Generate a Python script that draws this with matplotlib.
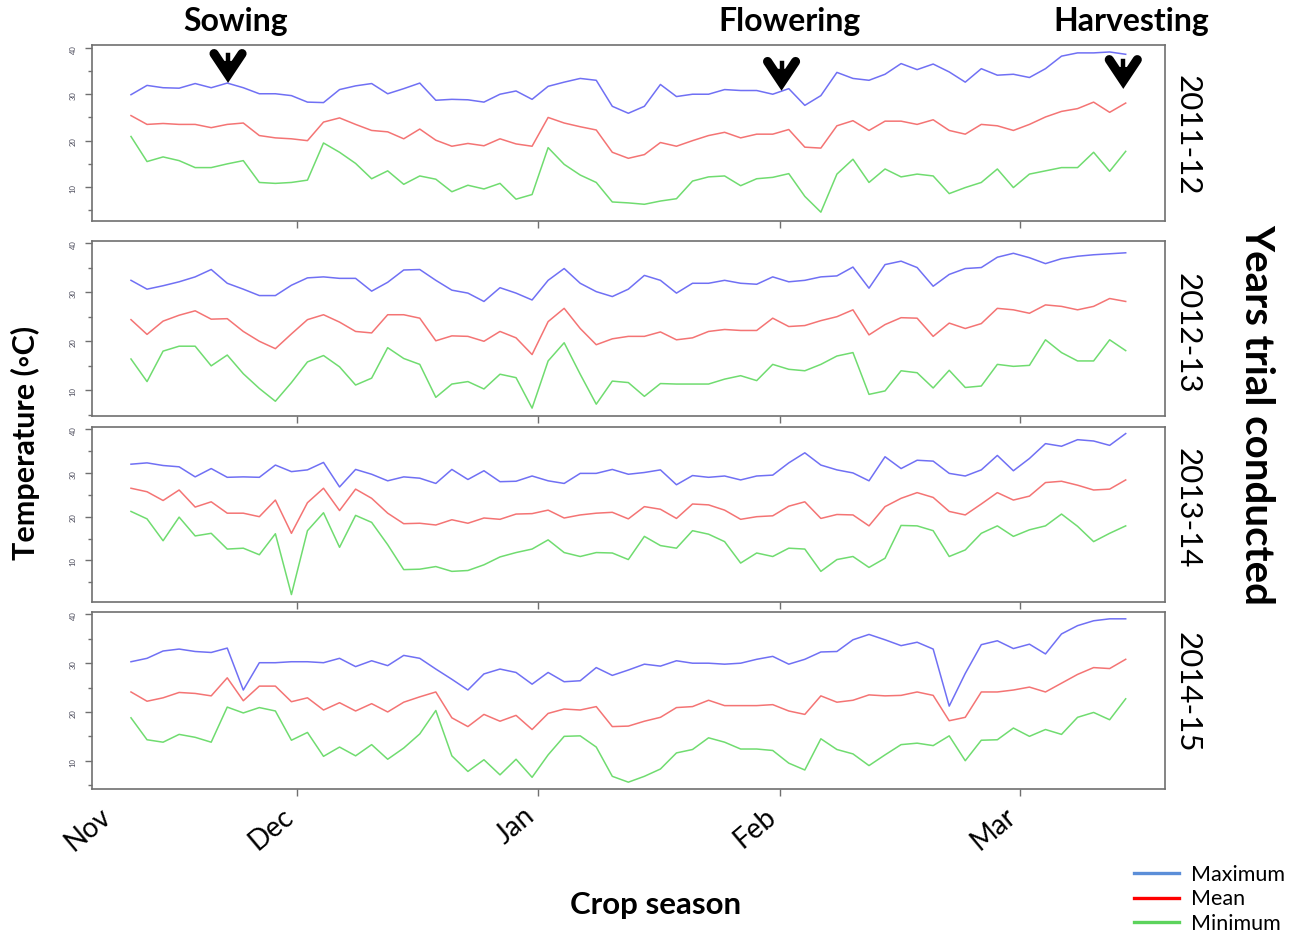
"""
Daily max / mean / min air temperature over four wheat seasons,
one stacked panel per season, with crop stage markers on top.
"""

import numpy as np
import matplotlib
matplotlib.use("Agg")
import matplotlib.pyplot as plt
import matplotlib.transforms as mtransforms
from matplotlib.lines import Line2D
from matplotlib.patches import Polygon

plt.rcParams["font.family"] = ["Lato", "DejaVu Sans"]

# ── Data (read every 2nd day from the figure) ───────────────────────────────
DAYS = np.arange(0, 126, 2)   # days since first record (~10 Nov)

YEARS = ["2011-12", "2012-13", "2013-14", "2014-15"]

MAX_2011 = [29.9, 31.9, 31.4, 31.3, 32.3, 31.4, 32.4, 31.4, 30.1, 30.1, 29.7, 28.3, 28.2,
            31.0, 31.8, 32.3, 30.1, 31.2, 32.4, 28.7, 28.9, 28.8, 28.3, 30.0, 30.7, 28.9,
            31.7, 32.6, 33.4, 33.0, 27.4, 25.9, 27.4, 32.1, 29.5, 30.0, 30.0, 31.0, 30.8,
            30.8, 30.0, 31.2, 27.6, 29.7, 34.7, 33.4, 33.0, 34.3, 36.6, 35.3, 36.5, 34.8,
            32.6, 35.5, 34.1, 34.3, 33.6, 35.5, 38.2, 38.9, 38.9, 39.1, 38.6]
MEAN_2011 = [25.4, 23.5, 23.7, 23.5, 23.5, 22.8, 23.5, 23.8, 21.1, 20.6, 20.4, 20.0, 24.0,
             24.9, 23.5, 22.2, 21.9, 20.4, 22.5, 20.1, 18.8, 19.4, 18.9, 20.4, 19.3, 18.8,
             25.0, 23.8, 23.0, 22.3, 17.5, 16.2, 17.0, 19.6, 18.8, 20.0, 21.1, 21.8, 20.6,
             21.4, 21.4, 22.4, 18.6, 18.4, 23.2, 24.3, 22.2, 24.2, 24.2, 23.5, 24.5, 22.2,
             21.4, 23.5, 23.2, 22.2, 23.5, 25.1, 26.3, 26.9, 28.3, 26.1, 28.1]
MIN_2011 = [20.9, 15.5, 16.5, 15.7, 14.2, 14.2, 15.0, 15.7, 11.0, 10.8, 11.0, 11.5, 19.5,
            17.5, 15.1, 11.8, 13.5, 10.6, 12.4, 11.7, 9.0, 10.4, 9.6, 10.8, 7.4, 8.4,
            18.5, 14.9, 12.6, 11.0, 6.8, 6.6, 6.3, 7.0, 7.5, 11.3, 12.2, 12.4, 10.3,
            11.8, 12.1, 12.9, 8.0, 4.6, 12.8, 16.0, 11.0, 13.9, 12.2, 12.8, 12.4, 8.6,
            9.9, 11.0, 13.9, 9.9, 12.8, 13.5, 14.2, 14.2, 17.5, 13.4, 17.7]

MAX_2012 = [32.4, 30.6, 31.3, 32.1, 33.1, 34.6, 31.8, 30.6, 29.3, 29.3, 31.4, 32.9, 33.1,
            32.8, 32.8, 30.2, 32.0, 34.5, 34.6, 32.4, 30.4, 29.8, 28.1, 30.9, 29.8, 28.4,
            32.4, 34.8, 31.8, 30.1, 29.1, 30.6, 33.4, 32.4, 29.8, 31.8, 31.8, 32.4, 31.8,
            31.6, 33.1, 32.1, 32.4, 33.1, 33.3, 35.1, 30.8, 35.6, 36.3, 35.0, 31.2, 33.6,
            34.8, 35.0, 37.1, 37.9, 37.0, 35.8, 36.8, 37.3, 37.6, 37.8, 38.0]
MEAN_2012 = [24.4, 21.4, 24.1, 25.3, 26.2, 24.5, 24.6, 22.0, 20.0, 18.5, 21.5, 24.4, 25.4,
             23.9, 22.0, 21.7, 25.4, 25.4, 24.7, 20.1, 21.1, 21.0, 20.0, 22.0, 20.7, 17.3,
             24.0, 26.7, 22.6, 19.3, 20.5, 21.0, 21.0, 21.9, 20.3, 20.7, 22.0, 22.4, 22.2,
             22.2, 24.7, 23.0, 23.2, 24.2, 25.0, 26.4, 21.3, 23.4, 24.8, 24.7, 21.0, 23.7,
             22.6, 23.6, 26.7, 26.4, 25.7, 27.4, 27.1, 26.4, 27.1, 28.7, 28.1]
MIN_2012 = [16.4, 11.8, 18.0, 19.0, 19.0, 15.0, 17.2, 13.4, 10.4, 7.8, 11.6, 15.8, 17.1,
            14.8, 11.1, 12.5, 18.7, 16.5, 15.3, 8.6, 11.3, 11.8, 10.3, 13.3, 12.6, 6.4,
            16.0, 19.7, 13.3, 7.2, 11.9, 11.6, 8.8, 11.4, 11.3, 11.3, 11.3, 12.3, 13.0,
            12.0, 15.3, 14.3, 14.0, 15.3, 17.0, 17.7, 9.2, 9.9, 14.0, 13.6, 10.5, 14.1,
            10.6, 10.9, 15.3, 14.9, 15.1, 20.3, 17.7, 16.0, 16.0, 20.3, 18.1]

MAX_2013 = [32.0, 32.3, 31.7, 31.4, 29.1, 31.0, 29.0, 29.1, 29.0, 31.8, 30.3, 30.7, 32.4,
            26.8, 30.8, 29.7, 28.2, 29.1, 28.8, 27.6, 30.8, 28.5, 30.5, 28.0, 28.1, 29.3,
            28.2, 27.6, 29.9, 29.9, 30.8, 29.7, 30.1, 30.7, 27.3, 29.4, 29.0, 29.3, 28.4,
            29.3, 29.5, 32.3, 34.6, 31.8, 30.7, 30.0, 28.2, 33.7, 31.0, 32.9, 32.7, 29.9,
            29.3, 30.7, 34.0, 30.5, 33.3, 36.7, 36.1, 37.6, 37.3, 36.3, 39.0]
MEAN_2013 = [26.5, 25.7, 23.7, 26.1, 22.2, 23.4, 20.8, 20.8, 20.0, 23.8, 16.2, 23.2, 26.5,
             21.4, 26.3, 24.2, 20.8, 18.4, 18.5, 18.1, 19.3, 18.5, 19.7, 19.4, 20.6, 20.7,
             21.5, 19.7, 20.4, 20.8, 21.0, 19.5, 22.3, 21.7, 19.6, 22.9, 22.7, 21.5, 19.4,
             20.0, 20.2, 22.4, 23.4, 19.6, 20.5, 20.4, 17.9, 22.3, 24.2, 25.5, 24.4, 21.2,
             20.4, 22.9, 25.5, 23.8, 24.7, 27.8, 28.1, 27.2, 26.1, 26.3, 28.4]
MIN_2013 = [21.2, 19.5, 14.5, 19.9, 15.6, 16.2, 12.6, 12.8, 11.3, 16.1, 2.2, 16.8, 20.9,
            13.0, 20.3, 18.7, 13.6, 7.9, 8.0, 8.6, 7.5, 7.7, 9.0, 10.8, 11.8, 12.6,
            14.7, 11.8, 10.9, 11.8, 11.7, 10.2, 15.5, 13.4, 12.8, 16.8, 16.0, 14.3, 9.4,
            11.7, 10.9, 12.8, 12.6, 7.5, 10.2, 10.9, 8.4, 10.5, 18.0, 17.9, 16.8, 10.9,
            12.4, 16.2, 17.9, 15.5, 17.0, 17.9, 20.6, 17.8, 14.3, 16.2, 17.9]

MAX_2014 = [30.3, 31.0, 32.5, 32.9, 32.4, 32.2, 33.1, 24.5, 30.1, 30.1, 30.3, 30.3, 30.1,
            31.0, 29.3, 30.5, 29.5, 31.6, 31.0, 28.8, 26.7, 24.5, 27.8, 28.8, 28.1, 25.7,
            28.1, 26.2, 26.4, 29.1, 27.5, 28.6, 29.8, 29.4, 30.5, 30.0, 30.0, 29.8, 30.0,
            30.8, 31.4, 29.8, 30.8, 32.3, 32.4, 34.8, 35.9, 34.8, 33.6, 34.3, 32.9, 21.2,
            27.9, 33.8, 34.6, 33.0, 33.9, 31.9, 36.0, 37.7, 38.7, 39.1, 39.1]
MEAN_2014 = [24.1, 22.2, 22.9, 24.0, 23.8, 23.3, 27.0, 22.3, 25.3, 25.3, 22.1, 22.9, 20.4,
             21.9, 20.2, 21.7, 20.0, 22.0, 23.1, 24.1, 18.8, 17.0, 19.5, 18.1, 19.3, 16.4,
             19.7, 20.6, 20.4, 21.1, 17.0, 17.1, 18.1, 18.9, 20.9, 21.1, 22.4, 21.3, 21.3,
             21.3, 21.5, 20.2, 19.5, 23.3, 22.0, 22.4, 23.5, 23.3, 23.4, 24.1, 23.4, 18.2,
             18.9, 24.1, 24.1, 24.5, 25.1, 24.1, 25.9, 27.7, 29.1, 28.9, 30.8]
MIN_2014 = [18.8, 14.3, 13.8, 15.4, 14.8, 13.8, 21.0, 19.8, 20.9, 20.2, 14.2, 15.8, 10.9,
            12.8, 11.0, 13.3, 10.3, 12.6, 15.5, 20.3, 11.0, 7.8, 10.2, 7.1, 10.3, 6.6,
            11.2, 15.0, 15.1, 12.8, 6.8, 5.6, 6.8, 8.3, 11.6, 12.3, 14.7, 13.8, 12.4,
            12.4, 12.1, 9.5, 8.1, 14.5, 12.3, 11.4, 9.0, 11.2, 13.3, 13.6, 13.1, 15.1,
            10.0, 14.2, 14.3, 16.7, 15.0, 16.4, 15.4, 18.9, 19.9, 18.4, 22.7]

SERIES_MAX = [MAX_2011, MAX_2012, MAX_2013, MAX_2014]
SERIES_MEAN = [MEAN_2011, MEAN_2012, MEAN_2013, MEAN_2014]
SERIES_MIN = [MIN_2011, MIN_2012, MIN_2013, MIN_2014]

MONTH_LABELS = ["Nov", "Dec", "Jan", "Feb", "Mar"]
MONTH_TICKS = [-2.0, 20.7, 50.8, 80.9, 110.8]

# crop stages: (label, day, temperature at arrow tip)
STAGES = [("Sowing", 12.1, 32.5), ("Flowering", 81.1, 30.8), ("Harvesting", 123.7, 31.2)]

# ── Style ───────────────────────────────────────────────────────────────────
W, H = 1293, 935
C_MAX, C_MEAN, C_MIN = "#7070f4", "#f47474", "#70dc70"
SPINE = "#707070"

# panel boxes in pixels: left, top, right, bottom
PANELS = [(92, 45, 1165, 221), (92, 241, 1165, 416),
          (92, 427, 1165, 602), (92, 612, 1165, 789)]
YLIMS = [(2.7, 40.6), (4.8, 40.4), (0.5, 40.5), (4.2, 40.5)]
YEAR_Y = [135, 333, 508, 692]


def draw_chevron(ax, x, y):
    """Thick black down-pointing arrow with its tip at data point (x, y)."""
    trans = mtransforms.Affine2D() + mtransforms.ScaledTranslation(x, y, ax.transData)
    v = Line2D([-14, 0, 14], [29, 8, 29], lw=6.6, color="black",
               solid_joinstyle="miter", solid_capstyle="round",
               transform=trans, clip_on=False, zorder=5)
    head = Polygon([(-8, 21), (8, 21), (0, 3)], closed=True, color="black",
                   transform=trans, clip_on=False, zorder=5)
    stem = Line2D([0, 0], [16, 28], lw=3.2, color="black",
                  transform=trans, clip_on=False, zorder=5)
    ax.add_artist(v)
    ax.add_artist(head)
    ax.add_artist(stem)


fig = plt.figure(figsize=(W / 100, H / 100), dpi=100, facecolor="white")
shift_left = mtransforms.ScaledTranslation(-11 / 72, 0, fig.dpi_scale_trans)

axes = []
for k, (l, t, r, b) in enumerate(PANELS):
    ax = fig.add_axes([l / W, 1 - b / H, (r - l) / W, (b - t) / H])
    ax.plot(DAYS, SERIES_MAX[k], color=C_MAX, lw=1.1)
    ax.plot(DAYS, SERIES_MEAN[k], color=C_MEAN, lw=1.1)
    ax.plot(DAYS, SERIES_MIN[k], color=C_MIN, lw=1.1)

    ax.set_xlim(-4.86, 128.9)
    ax.set_ylim(*YLIMS[k])
    ax.set_yticks([10, 20, 30, 40])
    ax.set_yticks([5, 15, 25, 35], minor=True)
    ax.set_xticks(MONTH_TICKS)
    ax.xaxis.get_major_ticks()[0].tick1line.set_visible(False)

    for sp in ax.spines.values():
        sp.set_color(SPINE)
        sp.set_linewidth(1.2)
    ax.tick_params(axis="y", which="major", length=5, width=1, color=SPINE,
                   labelsize=5.5, labelcolor="#4a4a5a", labelrotation=90, pad=6)
    ax.tick_params(axis="y", which="minor", length=3, width=1, color=SPINE)
    ax.tick_params(axis="x", length=5, width=1, color=SPINE, pad=5)

    if k < 3:
        ax.tick_params(axis="x", labelbottom=False)
    else:
        ax.set_xticklabels(MONTH_LABELS, rotation=40, ha="right",
                           rotation_mode="anchor", fontsize=20)
        for lab in ax.get_xticklabels():
            lab.set_transform(lab.get_transform() + shift_left)

    fig.text(1188 / W, 1 - YEAR_Y[k] / H, YEARS[k], rotation=-90,
             ha="center", va="center", fontsize=22.5)
    axes.append(ax)

# crop stage arrows and labels over the first season
top = axes[0]
label_trans = mtransforms.blended_transform_factory(top.transData, fig.transFigure)
for name, day, temp in STAGES:
    draw_chevron(top, day, temp)
    top.text(day + 1.0, 1 - 21 / H, name, transform=label_trans,
             ha="center", va="center", fontsize=23, fontweight="bold")

fig.text(25 / W, 1 - 443 / H, "Temperature (\u25e6C)", rotation=90,
         ha="center", va="center", fontsize=22, fontweight="bold")
fig.text(1257 / W, 1 - 415 / H, "Years trial conducted", rotation=-90,
         ha="center", va="center", fontsize=29, fontweight="bold")
fig.text(656 / W, 1 - 905 / H, "Crop season",
         ha="center", va="center", fontsize=22.5, fontweight="bold")

handles = [Line2D([], [], color="#5b8ed8", lw=2.4),
           Line2D([], [], color="#ff0000", lw=2.4),
           Line2D([], [], color="#5cd35c", lw=2.4)]
fig.legend(handles, ["Maximum", "Mean", "Minimum"], loc="upper left",
           bbox_to_anchor=(1134 / W, 1 - 865 / H), frameon=False, fontsize=15.5,
           handlelength=2.1, handletextpad=0.55, labelspacing=0.2,
           borderpad=0, borderaxespad=0)

fig.savefig("out.png", dpi=100, facecolor="white")
